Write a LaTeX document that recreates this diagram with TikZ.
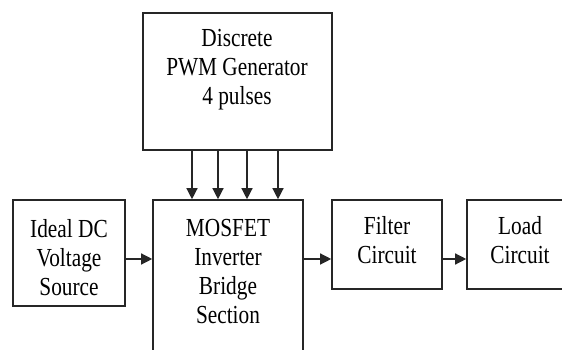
\documentclass[tikz,border=0pt]{standalone}
\usepackage{fontspec}
\setmainfont{Liberation Serif}[FakeStretch=0.82]
\usetikzlibrary{arrows.meta}
\begin{document}
\begin{tikzpicture}[x=1pt,y=1pt,
  box/.style={draw=black!85, line width=1.6pt, rectangle, inner sep=0pt, fill=white},
  txt/.style={align=center, font=\fontsize{26}{29}\selectfont, inner sep=0pt, text=black},
  arr/.style={draw=black!85, line width=1.3pt, -{Triangle[length=11pt,width=11pt]}}]
\useasboundingbox[fill=white] (0,0) rectangle (562,350);
\begin{scope}
\clip (0,0) rectangle (562,350);
\node[box, minimum width=189pt, minimum height=137pt] (pwm) at (237.5,268.5) {};
\node[box, minimum width=150pt, minimum height=200pt] (mosfet) at (228,50) {};
\node[box, minimum width=112pt, minimum height=106pt] (dc) at (69,97) {};
\node[box, minimum width=110pt, minimum height=89pt] (filter) at (387,105.5) {};
\node[box, minimum width=110pt, minimum height=89pt] (load) at (522,105.5) {};
\end{scope}
\node[txt] (pwmt) at (237,280) {Discrete\\PWM Generator\\4 pulses};
\node[txt] (mosfett) at (228,78.5) {MOSFET\\Inverter\\Bridge\\Section};
\node[txt] (dct) at (69,92) {Ideal DC\\Voltage\\Source};
\node[txt] (filtert) at (387,110) {Filter\\Circuit};
\node[txt] (loadt) at (520,110) {Load\\Circuit};
\foreach \x in {192,218,247,278}
  \draw[arr] (\x,0 |- pwm.south) -- (\x,0 |- mosfet.north);
\draw[arr] (dc.east |- 0,91) -- (mosfet.west |- 0,91);
\draw[arr] (mosfet.east |- 0,91) -- (filter.west |- 0,91);
\draw[arr] (filter.east |- 0,91) -- (load.west |- 0,91);
\end{tikzpicture}
\end{document}
